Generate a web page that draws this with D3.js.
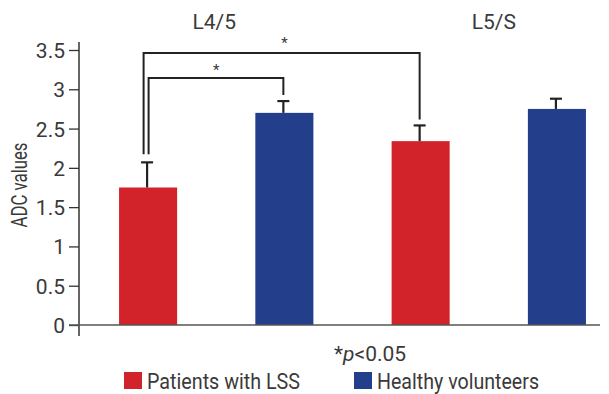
<!DOCTYPE html>
<html><head><meta charset="utf-8">
<script src="https://cdn.jsdelivr.net/npm/d3@7/dist/d3.min.js"></script>
<style>
body{margin:0;background:#fff;}
text{font-family:"Roboto",sans-serif;fill:#3a3a3a;}
</style></head>
<body><svg id="c" width="609" height="394"></svg>
<script>
const categories = ["L4/5 LSS","L4/5 HV","L5/S LSS","L5/S HV"];
const groups = ["Patients with LSS","Healthy volunteers","Patients with LSS","Healthy volunteers"];
const values = [1.75, 2.70, 2.34, 2.75];
const errors = [0.32, 0.15, 0.20, 0.13];
const levelLabels = ["L4/5","L5/S"];
const yTicks = [0,0.5,1,1.5,2,2.5,3,3.5];
const colors = {"Patients with LSS":"#d2232a","Healthy volunteers":"#233e8b"};

const svg = d3.select("#c");
const y = d3.scaleLinear().domain([0,3.5]).range([325,50]);
const x = d3.scaleBand().domain(categories).range([79,626]).paddingInner(0.574).paddingOuter(0.294);

// bars
svg.selectAll("rect.bar").data(categories).enter().append("rect")
  .attr("x", d=>x(d)).attr("width", x.bandwidth())
  .attr("y", (d,i)=>y(values[i])).attr("height",(d,i)=>y(0)-y(values[i]))
  .attr("fill",(d,i)=>colors[groups[i]]);

// error bars
const eb = svg.append("g").attr("stroke","#222").attr("stroke-width",2.2);
categories.forEach((c,i)=>{
  const cx = x(c)+x.bandwidth()/2 - 1;
  eb.append("line").attr("x1",cx).attr("x2",cx).attr("y1",y(values[i])).attr("y2",y(values[i]+errors[i]));
  eb.append("line").attr("x1",cx-6).attr("x2",cx+6).attr("y1",y(values[i]+errors[i])).attr("y2",y(values[i]+errors[i]));
});

// axes
const yAxis = d3.axisLeft(y).tickValues(yTicks).tickSize(10).tickPadding(4).tickFormat(d3.format("~g"));
const ga = svg.append("g").attr("transform","translate(79,0)").call(yAxis);
ga.select(".domain").remove();
ga.selectAll(".tick line").attr("stroke","#333").attr("stroke-width",1.3);
ga.selectAll(".tick text").style("font-size","21px").attr("fill","#3a3a3a").attr("dy","0.36em");
svg.append("line").attr("x1",79).attr("x2",79).attr("y1",42).attr("y2",336).attr("stroke","#333").attr("stroke-width",1.5);
svg.append("line").attr("x1",69).attr("x2",600).attr("y1",y(0)).attr("y2",y(0)).attr("stroke","#555").attr("stroke-width",1.5);

svg.append("text").attr("transform","translate(27,185) rotate(-90)").attr("text-anchor","middle")
  .style("font-size","22px").attr("textLength",85).attr("lengthAdjust","spacingAndGlyphs").text("ADC values");

// level labels
const lx = [ (x(categories[0])+x(categories[1])+x.bandwidth())/2 - 2, (x(categories[2])+x(categories[3])+x.bandwidth())/2 + 5];
levelLabels.forEach((l,i)=>{
  svg.append("text").attr("x",lx[i]).attr("y",29).attr("text-anchor","middle").style("font-size","21px").text(l);
});

// significance brackets
const c0 = x(categories[0])+x.bandwidth()/2;
const c1 = x(categories[1])+x.bandwidth()/2;
const c2 = x(categories[2])+x.bandwidth()/2;
const br = svg.append("g").attr("fill","none").attr("stroke","#222").attr("stroke-width",2);
const yOuter = 53, yInner = 78;
br.append("path").attr("d",`M${c0-4.5},${y(values[0]+errors[0])-8}V${yOuter}H${c2-1}V${y(values[2]+errors[2])-6}`);
br.append("path").attr("d",`M${c0+0.5},${y(values[0]+errors[0])-8}V${yInner}H${c1-1}V${y(values[1]+errors[1])-6}`);
svg.append("text").attr("x",(c0+c2)/2).attr("y",48).attr("text-anchor","middle").style("font-size","15px").text("*");
svg.append("text").attr("x",(c0+c1)/2).attr("y",75).attr("text-anchor","middle").style("font-size","15px").text("*");

// p note
const pn = svg.append("text").attr("x",334).attr("y",361).style("font-size","21px");
pn.append("tspan").text("*");
pn.append("tspan").style("font-style","italic").text("p");
pn.append("tspan").text("<0.05");

// legend
const legendItems = ["Patients with LSS","Healthy volunteers"];
const legX = [124, 354];
const legW = [153, 162];
legendItems.forEach((g,i)=>{
  svg.append("rect").attr("x",legX[i]).attr("y",372).attr("width",18).attr("height",17).attr("fill",colors[g]);
  svg.append("text").attr("x",legX[i]+23).attr("y",389).style("font-size","22px")
    .attr("textLength",legW[i]).attr("lengthAdjust","spacingAndGlyphs").text(g);
});
</script></body></html>
